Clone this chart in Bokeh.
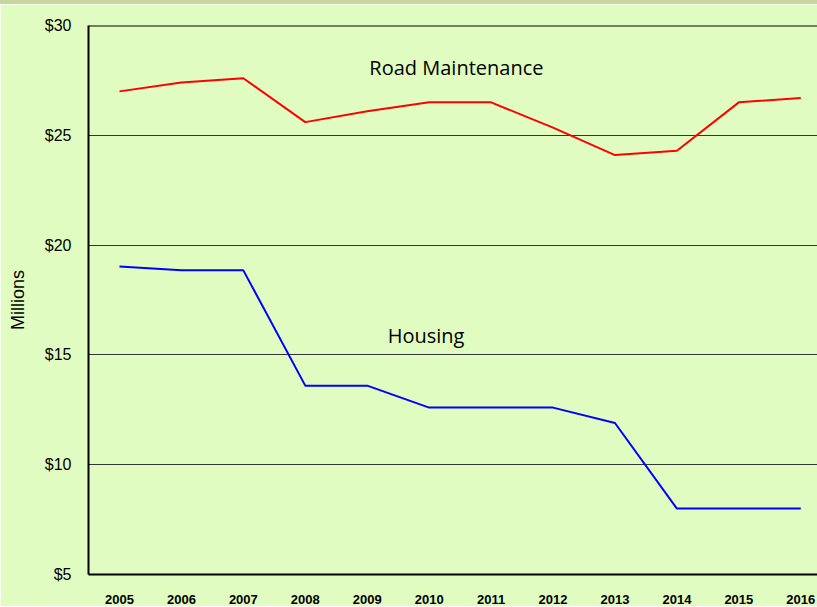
from bokeh.plotting import figure
from bokeh.models import FixedTicker, NumeralTickFormatter, Span, Label, Range1d, Div
from bokeh.layouts import column
from bokeh.embed import file_html
from bokeh.resources import INLINE

years = [2005, 2006, 2007, 2008, 2009, 2010, 2011, 2012, 2013, 2014, 2015, 2016]
road_maintenance = [27.0, 27.4, 27.6, 25.6, 26.1, 26.5, 26.5, 25.35, 24.1, 24.3, 26.5, 26.7]
housing = [19.03, 18.85, 18.85, 13.6, 13.6, 12.6, 12.6, 12.6, 11.9, 8.0, 8.0, 8.0]
y_ticks = [5, 10, 15, 20, 25, 30]

BG = "#e0fcc0"

p = figure(frame_width=729, frame_height=549, output_backend="svg", toolbar_location=None,
           x_range=Range1d(2004.5, 2016.27), y_range=Range1d(5, 30),
           min_border_left=88, min_border_right=0, min_border_top=21, min_border_bottom=20,
           background_fill_color=BG, border_fill_color=BG)
p.outline_line_color = None

p.line(years, road_maintenance, line_color="#ff0000", line_width=2)
p.line(years, housing, line_color="#0000ff", line_width=2)

p.xaxis.ticker = FixedTicker(ticks=years)
p.yaxis.ticker = FixedTicker(ticks=y_ticks)
p.yaxis.formatter = NumeralTickFormatter(format="$0")

for ax in (p.xaxis[0], p.yaxis[0]):
    ax.axis_line_color = "black"
    ax.axis_line_width = 2
    ax.major_tick_line_color = None
    ax.minor_tick_line_color = None

p.xaxis.major_label_text_font = "Liberation Sans"
p.xaxis.major_label_text_font_style = "bold"
p.xaxis.major_label_text_font_size = "13px"
p.xaxis.major_label_text_color = "black"
p.xaxis.major_label_standoff = 14

p.yaxis.major_label_text_font = "Liberation Sans"
p.yaxis.major_label_text_font_size = "16px"
p.yaxis.major_label_text_color = "black"
p.yaxis.major_label_standoff = 11
p.yaxis.axis_label = "Millions"
p.yaxis.axis_label_text_font = "Liberation Sans"
p.yaxis.axis_label_text_font_style = "normal"
p.yaxis.axis_label_text_font_size = "18px"
p.yaxis.axis_label_text_color = "black"
p.yaxis.axis_label_standoff = 14

p.xgrid.grid_line_color = None
p.ygrid.grid_line_color = "#363636"
p.ygrid.grid_line_width = 1

p.add_layout(Span(location=30, dimension="width", line_color="black", line_width=2))

p.add_layout(Label(x=2010.44, y=28.09, text="Road Maintenance", text_align="center",
                   text_baseline="middle", text_font="Open Sans", text_font_size="20px",
                   text_color="black"))
p.add_layout(Label(x=2009.95, y=15.9, text="Housing", text_align="center",
                   text_baseline="middle", text_font="Open Sans", text_font_size="20px",
                   text_color="black"))

strip = Div(text="", width=817, height=4, margin=0,
            styles={"background-color": "#c6d69e", "width": "817px", "height": "4px"})
layout = column(strip, p, spacing=0, margin=0)

open("out.html", "w").write(file_html(layout, INLINE))
